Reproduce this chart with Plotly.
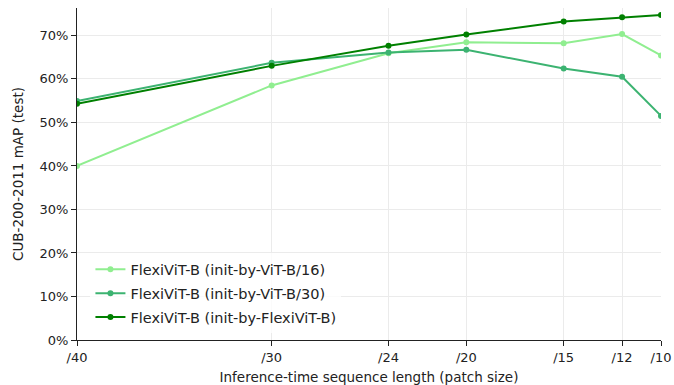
import plotly.graph_objects as go

patch_sizes = [40, 30, 24, 20, 15, 12, 10]
tick_labels = ["/40", "/30", "/24", "/20", "/15", "/12", "/10"]
y_vit16 = [0.400, 0.585, 0.659, 0.684, 0.682, 0.703, 0.654]
y_vit30 = [0.549, 0.637, 0.661, 0.667, 0.624, 0.605, 0.515]
y_flexi = [0.543, 0.630, 0.676, 0.702, 0.732, 0.742, 0.747]
series_names = ["FlexiViT-B (init-by-ViT-B/16)", "FlexiViT-B (init-by-ViT-B/30)", "FlexiViT-B (init-by-FlexiViT-B)"]
colors = ["#90EE90", "#3CB371", "#008000"]
y_ticks = [0, 0.1, 0.2, 0.3, 0.4, 0.5, 0.6, 0.7]

fig = go.Figure()
for i, (name, ys, c) in enumerate(zip(series_names, [y_vit16, y_vit30, y_flexi], colors)):
    fig.add_trace(go.Scatter(x=patch_sizes, y=ys, mode="lines+markers", name=name,
                             legendgroup=f"g{i}",
                             line=dict(color=c, width=2), marker=dict(color=c, size=6),
                             cliponaxis=True))

tfont = dict(family="DejaVu Sans", size=13, color="#222")
titlefont = dict(family="DejaVu Sans", size=13.5, color="#222")
legfont = dict(family="DejaVu Sans", size=14.5, color="#222")
fig.update_layout(
    width=674, height=385,
    margin=dict(l=77, r=13, t=8, b=45),
    paper_bgcolor="white", plot_bgcolor="white",
    font=tfont,
    showlegend=True,
    legend=dict(x=0.023, y=0.02, xanchor="left", yanchor="bottom",
                bgcolor="rgba(255,255,255,0.8)", font=legfont,
                tracegroupgap=2, itemwidth=30),
)
fig.update_xaxes(range=[40, 10], tickvals=patch_sizes, ticktext=tick_labels,
                 showgrid=True, gridcolor="#ebebeb", gridwidth=1,
                 showline=True, linecolor="#222", linewidth=1,
                 ticks="outside", ticklen=5, tickcolor="#222", zeroline=False,
                 tickfont=tfont, automargin=False, ticklabeloverflow="allow",
                 title=dict(text="Inference-time sequence length (patch size)", standoff=8, font=titlefont))
fig.update_yaxes(range=[0, 0.763], tickvals=y_ticks, tickformat=".0%",
                 showgrid=True, gridcolor="#ebebeb", gridwidth=1,
                 showline=True, linecolor="#222", linewidth=1,
                 ticks="outside", ticklen=5, tickcolor="#222", zeroline=False,
                 tickfont=tfont, automargin=False,
                 title=dict(text="CUB-200-2011 mAP (test)", standoff=12, font=titlefont))

# remove the default 8px page margin so the 674x385 figure fills the window
fig.write_html("out.html",
               config={"displayModeBar": False},
               post_script="document.body.style.margin='0';document.body.style.overflow='hidden';")
